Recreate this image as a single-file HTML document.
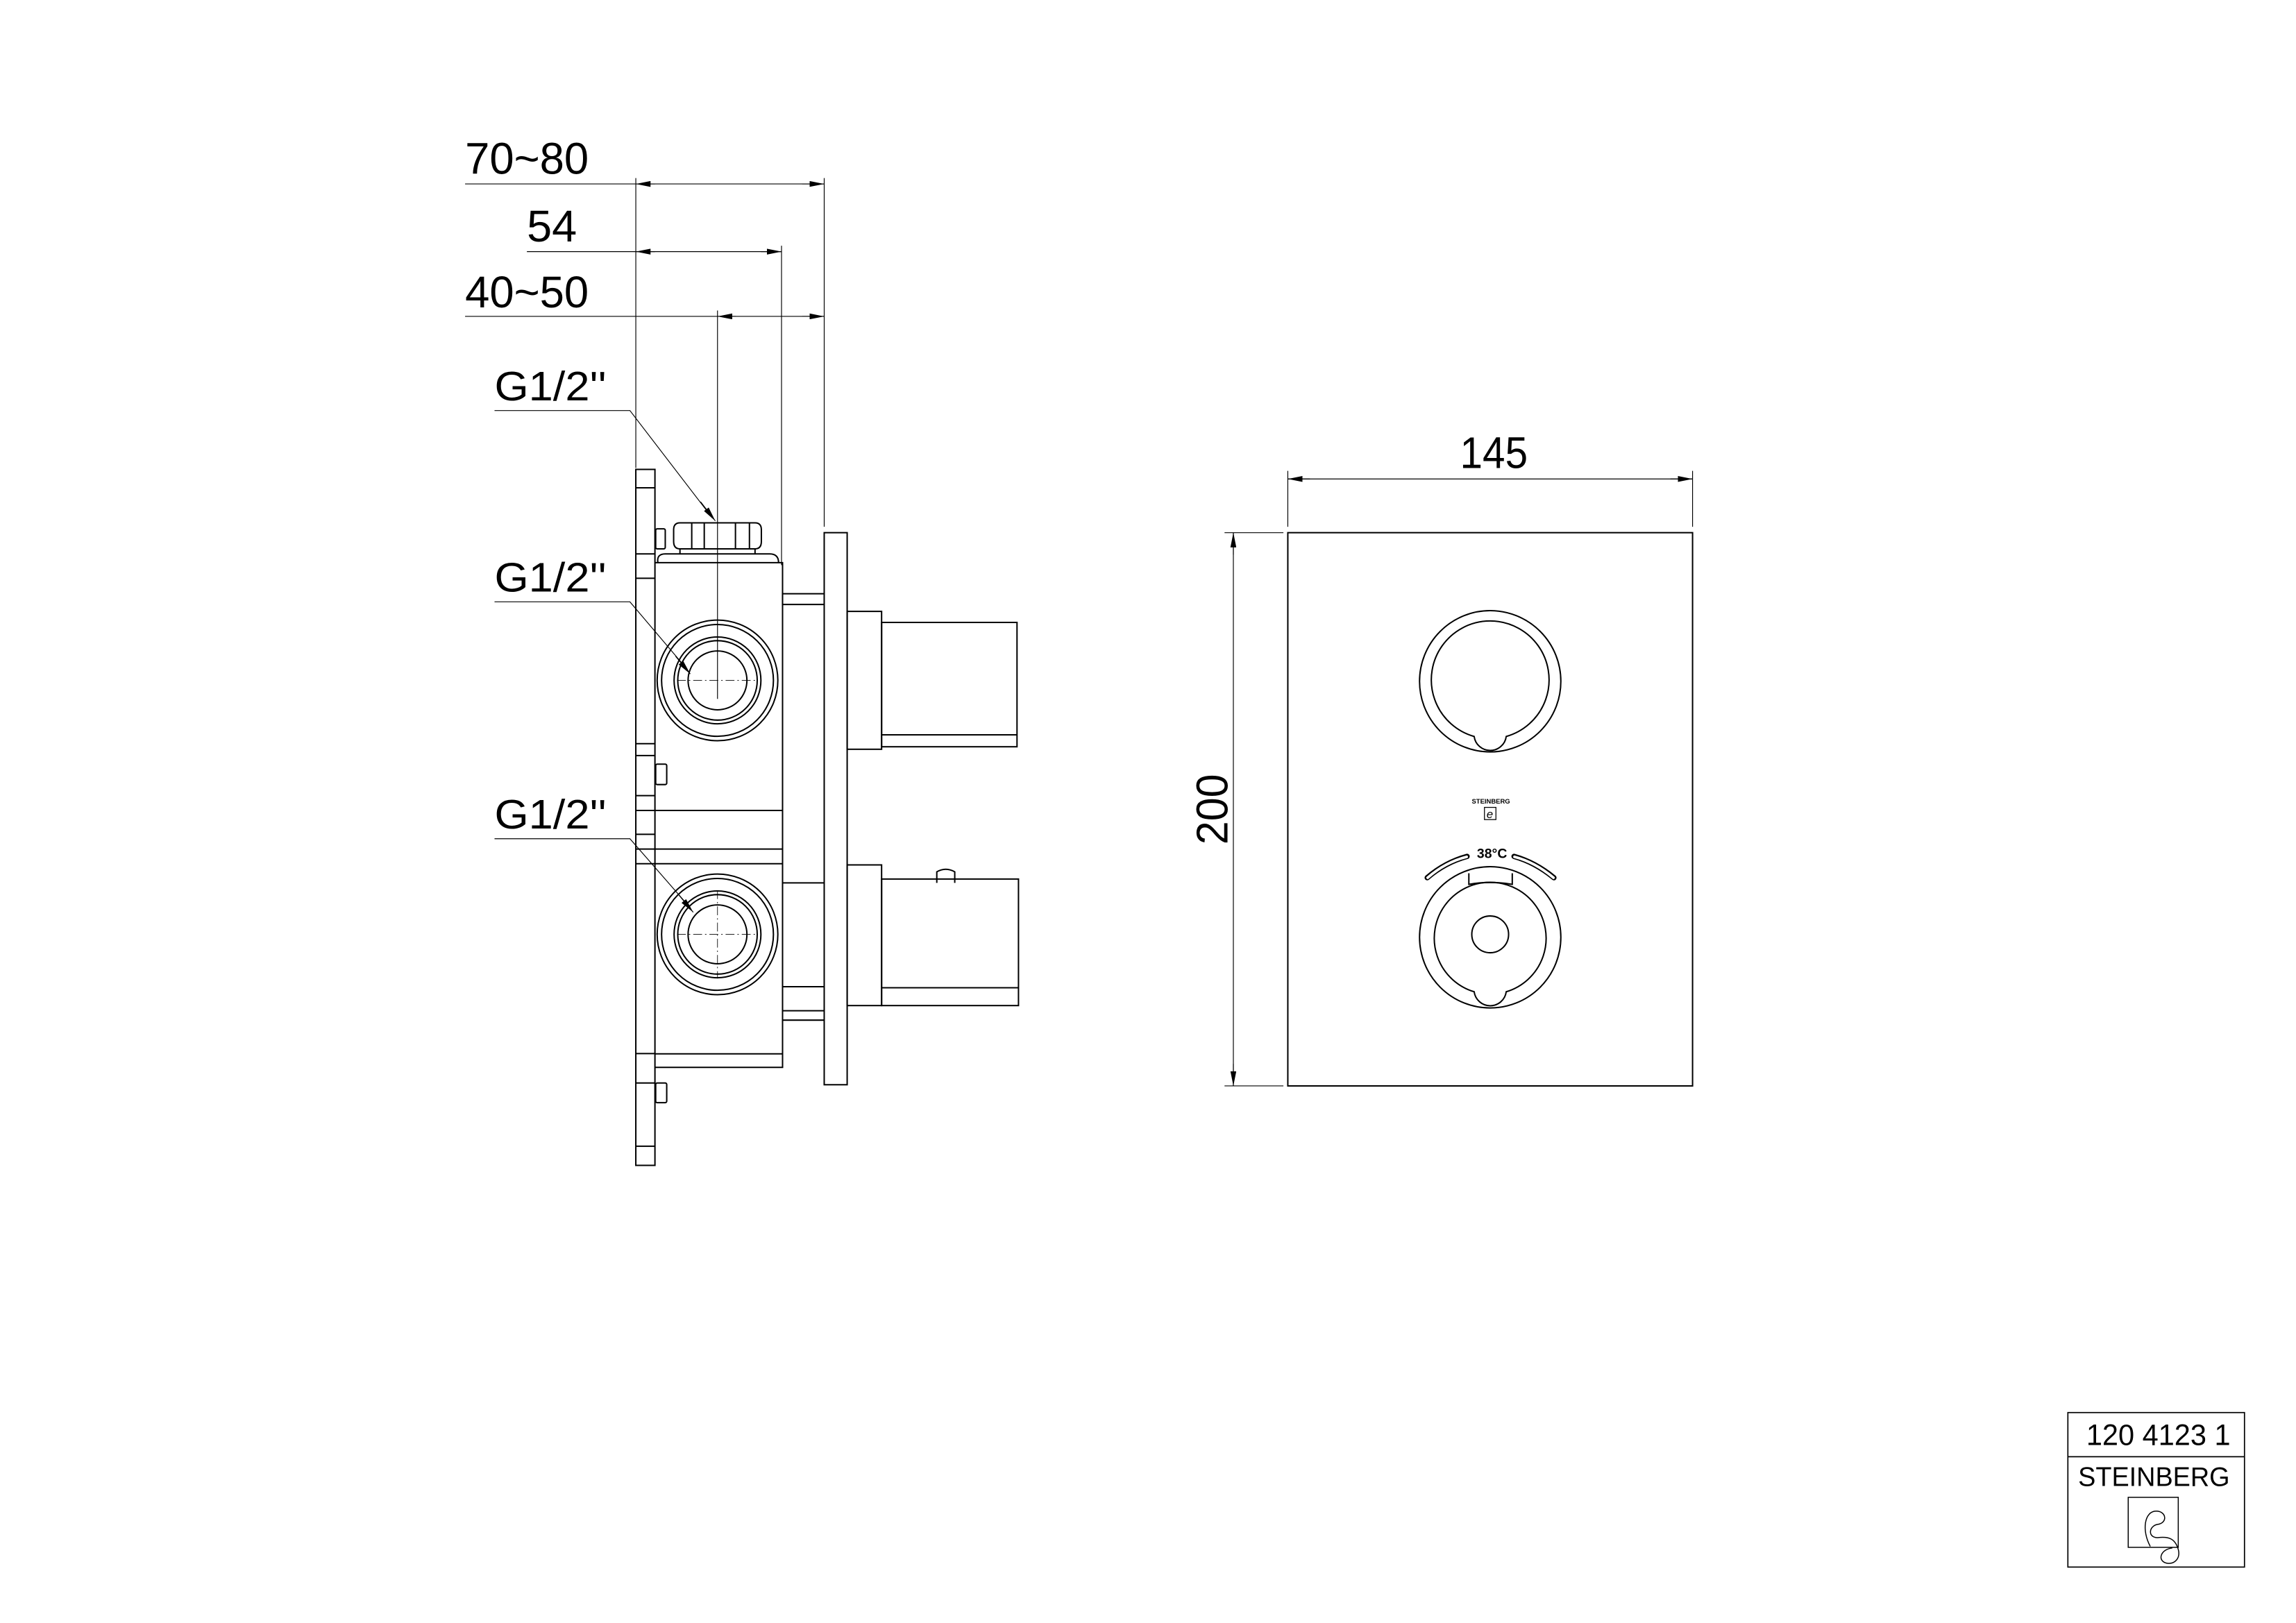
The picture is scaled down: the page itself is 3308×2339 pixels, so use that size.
<!DOCTYPE html>
<html><head><meta charset="utf-8"><style>
html,body{margin:0;padding:0;background:#fff;}
svg{display:block;}
text{font-family:"Liberation Sans",sans-serif;fill:#000;}
</style></head><body>
<svg width="3308" height="2339" viewBox="0 0 1560 1103" xmlns="http://www.w3.org/2000/svg">
<defs>
<marker id="a" viewBox="0 0 10 4" refX="10" refY="2" markerWidth="10" markerHeight="4" markerUnits="userSpaceOnUse" orient="auto"><path d="M0,0 L10,2 L0,4 z" fill="#000"/></marker>
</defs>
<rect width="1560" height="1103" fill="#fff"/>
<g fill="none" stroke="#000" stroke-width="0.55">
<!-- dimension lines left -->
<line x1="316" y1="125" x2="560" y2="125"/>
<line x1="445" y1="125" x2="432" y2="125" marker-end="url(#a)"/>
<line x1="545" y1="125" x2="560" y2="125" marker-end="url(#a)"/>
<line x1="358" y1="171" x2="531" y2="171"/>
<line x1="445" y1="171" x2="432" y2="171" marker-end="url(#a)"/>
<line x1="517" y1="171" x2="531" y2="171" marker-end="url(#a)"/>
<line x1="316" y1="215" x2="560" y2="215"/>
<line x1="500" y1="215" x2="487.5" y2="215" marker-end="url(#a)"/>
<line x1="545" y1="215" x2="560" y2="215" marker-end="url(#a)"/>
<line x1="432" y1="121" x2="432" y2="318"/>
<line x1="560" y1="121" x2="560" y2="358"/>
<line x1="531" y1="167" x2="531" y2="384"/>
<line x1="487.5" y1="211" x2="487.5" y2="475"/>
<!-- leaders -->
<polyline points="336,279 428,279 484,352" />
<line x1="476" y1="341" x2="486" y2="354" marker-end="url(#a)"/>
<polyline points="336,409 428,409 467,455"/>
<line x1="459" y1="446" x2="469" y2="458" marker-end="url(#a)"/>
<polyline points="336,570 428,570 469,617"/>
<line x1="461" y1="608" x2="471" y2="620" marker-end="url(#a)"/>
<!-- right dims -->
<line x1="875" y1="325.5" x2="1150" y2="325.5"/>
<line x1="890" y1="325.5" x2="875" y2="325.5" marker-end="url(#a)"/>
<line x1="1135" y1="325.5" x2="1150" y2="325.5" marker-end="url(#a)"/>
<line x1="875" y1="320" x2="875" y2="358"/>
<line x1="1150" y1="320" x2="1150" y2="358"/>
<line x1="838" y1="362" x2="838" y2="738"/>
<line x1="838" y1="377" x2="838" y2="362" marker-end="url(#a)"/>
<line x1="838" y1="723" x2="838" y2="738" marker-end="url(#a)"/>
<line x1="832" y1="362" x2="872" y2="362"/>
<line x1="832" y1="738" x2="872" y2="738"/>
<!-- centerlines -->
<g stroke-dasharray="6,2,1,2" stroke-width="0.4">
<line x1="460" y1="462.4" x2="515" y2="462.4"/>
<line x1="460" y1="635" x2="515" y2="635"/>
<line x1="487.5" y1="605" x2="487.5" y2="665"/>
</g>
</g>
<g fill="none" stroke="#000" stroke-width="0.95">
<!-- wall plate -->
<rect x="432" y="319" width="13" height="473"/>
<path d="M432 331.5h13M432 376.4h13M432 393h13M432 505.4h13M432 513.5h13M432 540.7h13M432 550.8h13M432 567h13M432 577h13M432 587h13M432 716h13M432 736h13M432 779h13"/>
<!-- screws -->
<rect x="445.5" y="359.4" width="6.5" height="13.6" rx="1"/>
<rect x="445.5" y="519.3" width="7.5" height="13.9" rx="1"/>
<rect x="445.5" y="736" width="7.5" height="13.4" rx="1"/>
<!-- body -->
<path d="M445 382.4 H531.7 V725.4 H445"/>
<path d="M445 550.8 H531.7 M445 577 H531.7 M445 587 H531.7 M445 716.2 H531.7"/>
<path d="M447 382.4 Q446 376.4 452 376.4 H523 Q529 376.4 529 382.4"/>
<!-- nut -->
<path d="M462 355.3 H513 Q517.3 355.3 517.3 360 V368 Q517.3 373 513 373 H462 Q457.7 373 457.7 368 V360 Q457.7 355.3 462 355.3 Z"/>
<path d="M470 355.5 V373 M478.5 355.5 V373 M499.7 355.5 V373 M509.2 355.5 V373"/>
<path d="M462 373 H513 V376.4 M462 373 V376.4"/>
<!-- fittings -->
<circle cx="487.5" cy="462.4" r="41"/><circle cx="487.5" cy="462.4" r="38"/>
<circle cx="487.5" cy="462.4" r="29.5"/><circle cx="487.5" cy="462.4" r="27"/>
<circle cx="487.5" cy="462.4" r="20"/>
<circle cx="487.5" cy="635" r="41"/><circle cx="487.5" cy="635" r="38"/>
<circle cx="487.5" cy="635" r="29.5"/><circle cx="487.5" cy="635" r="27"/>
<circle cx="487.5" cy="635" r="20"/>
<!-- connectors -->
<rect x="531.7" y="403.5" width="28.3" height="7.3"/>
<path d="M531.7 600 H560 M531.7 670.6 H560 M531.7 686.9 H560 M531.7 693.3 H560"/>
<!-- front plate -->
<rect x="560" y="362" width="15.6" height="375.2"/>
<!-- upper handle -->
<rect x="575.6" y="415.5" width="23.4" height="93.7"/>
<rect x="599" y="423" width="92" height="84.5"/>
<line x1="599" y1="499.4" x2="691" y2="499.4"/>
<!-- lower handle -->
<rect x="575.6" y="587.8" width="23.4" height="95.6"/>
<rect x="599" y="597.4" width="93" height="86"/>
<line x1="599" y1="671.3" x2="692" y2="671.3"/>
<path d="M636.5 600 V592.5 Q642.6 589 648.7 592.5 V600"/>
<!-- right plate -->
<rect x="875" y="362" width="275" height="376"/>
<circle cx="1012.5" cy="463" r="48"/>
<path d="M1001.6 500.5 A40 40 0 1 1 1023.4 500.5 A11 11 0 0 1 1001.6 500.5 Z"/>
<circle cx="1012.5" cy="637" r="48"/>
<path d="M1001.6 674 A38 38 0 1 1 1023.4 674 A11 11 0 0 1 1001.6 674 Z"/>
<circle cx="1012.5" cy="635" r="12.5"/>
<path d="M998 593.5 V601 Q1012.5 598.5 1027.5 601 V593.5"/>
<!-- slots -->
<path d="M969.7 596.5 Q982 586 996.8 582" stroke-width="3.6" stroke-linecap="round"/>
<path d="M1028.7 582 Q1043 586 1055.8 596.5" stroke-width="3.6" stroke-linecap="round"/>
<rect x="1008.6" y="548.7" width="7.8" height="8.3" stroke-width="0.6"/>
<!-- title block -->
<rect x="1405" y="960" width="120" height="105" stroke-width="0.8"/>
<line x1="1405" y1="990" x2="1525" y2="990" stroke-width="0.8"/>
<rect x="1446" y="1017.6" width="34" height="34" stroke-width="0.7"/>
<path d="M1461 1051 C1455 1040 1457 1027 1465 1027 C1472 1027 1473 1035 1466 1036 C1460 1037 1459 1045 1466 1045 C1474 1044 1478 1046 1480 1053 C1482 1060 1476 1064 1471 1062 C1466 1060 1468 1053 1476 1052" stroke-width="0.7"/>
</g>
<path d="M970 596.5 Q982 586 996.5 582.3" stroke="#fff" stroke-width="1.8" fill="none" stroke-linecap="round"/>
<path d="M1029 582.3 Q1043 586 1055.5 596.5" stroke="#fff" stroke-width="1.8" fill="none" stroke-linecap="round"/>
<!-- texts -->
<text x="316" y="118" font-size="30" textLength="84" lengthAdjust="spacingAndGlyphs">70~80</text>
<text x="358" y="164" font-size="30" textLength="34" lengthAdjust="spacingAndGlyphs">54</text>
<text x="316" y="209" font-size="30" textLength="84" lengthAdjust="spacingAndGlyphs">40~50</text>
<text x="336" y="272" font-size="28" textLength="76" lengthAdjust="spacingAndGlyphs">G1/2''</text>
<text x="336" y="402" font-size="28" textLength="76" lengthAdjust="spacingAndGlyphs">G1/2''</text>
<text x="336" y="563" font-size="28" textLength="76" lengthAdjust="spacingAndGlyphs">G1/2''</text>
<text x="992" y="318" font-size="30" textLength="46" lengthAdjust="spacingAndGlyphs">145</text>
<text transform="translate(834,574) rotate(-90)" font-size="30" textLength="48" lengthAdjust="spacingAndGlyphs">200</text>
<text x="1000" y="546" font-size="4.5" font-weight="bold" textLength="26" lengthAdjust="spacingAndGlyphs">STEINBERG</text>
<text x="1010" y="556" font-size="8" font-style="italic">e</text>
<text x="1003.5" y="583" font-size="9" font-weight="bold" textLength="20.5" lengthAdjust="spacingAndGlyphs">38°C</text>
<text x="1417.5" y="982" font-size="20" textLength="98" lengthAdjust="spacingAndGlyphs">120 4123 1</text>
<text x="1412" y="1010" font-size="18.5" textLength="103" lengthAdjust="spacingAndGlyphs">STEINBERG</text>
</svg>
</body></html>
